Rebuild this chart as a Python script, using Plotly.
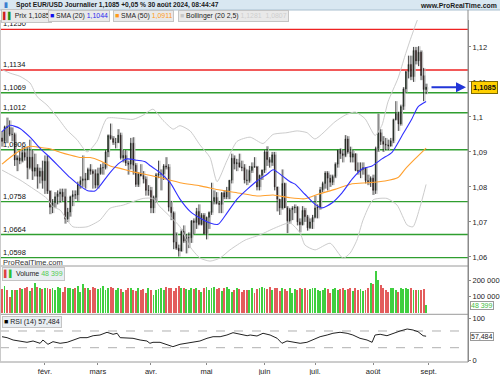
import pandas as pd
import plotly.graph_objects as go

# ---------------- data ----------------
dates = pd.bdate_range("2024-01-09", "2024-08-30")

open_ = [
    1.0940, 1.0930, 1.0972, 1.0970, 1.0950, 1.0950, 1.0877, 1.0883, 1.0875, 1.0898, 1.0885, 1.0855, 1.0885, 1.0845, 1.0855, 1.0830, 1.0845,
    1.0818, 1.0873, 1.0788, 1.0742, 1.0755, 1.0772, 1.0780, 1.0785, 1.0772, 1.0708, 1.0728, 1.0772, 1.0778, 1.0777, 1.0807, 1.0818, 1.0823, 1.0820, 1.0850, 1.0845, 1.0838,
    1.0805, 1.0838, 1.0855, 1.0855, 1.0900, 1.0947, 1.0938, 1.0927, 1.0927, 1.0948, 1.0883, 1.0890, 1.0868, 1.0865, 1.0925, 1.0862, 1.0807, 1.0837, 1.0832, 1.0822, 1.0790,
    1.0790, 1.0740, 1.0770, 1.0835, 1.0837, 1.0837, 1.0860, 1.0857, 1.0742, 1.0726, 1.0642, 1.0625, 1.0617, 1.0673, 1.0645, 1.0655, 1.0655, 1.0703, 1.0698, 1.0730, 1.0693, 1.0719,
    1.0666, 1.0713, 1.0727, 1.0760, 1.0770, 1.0753, 1.0750, 1.0783, 1.0771, 1.0790, 1.0819, 1.0882, 1.0866, 1.0869, 1.0857, 1.0855, 1.0820, 1.0818, 1.0847, 1.0858, 1.0857, 1.0800, 1.0833,
    1.0848, 1.0900, 1.0878, 1.0870, 1.0892, 1.0800, 1.0765, 1.0740, 1.0810, 1.0740, 1.0703, 1.0735, 1.0740, 1.0742, 1.0700, 1.0692, 1.0733, 1.0715, 1.0683, 1.0700,
    1.0713, 1.0740, 1.0742, 1.0792, 1.0810, 1.0840, 1.0825, 1.0813, 1.0830, 1.0865, 1.0905, 1.0895, 1.0890, 1.0937, 1.0900, 1.0885, 1.0895, 1.0847, 1.0845, 1.0850, 1.0855, 1.0818, 1.0815,
    1.0825, 1.0790, 1.0910, 1.0955, 1.0930, 1.0922, 1.0920, 1.0917, 1.0932, 1.0992, 1.1010, 1.0980, 1.1030, 1.1080, 1.1130, 1.1150, 1.1115, 1.1190, 1.1160, 1.1185, 1.1118, 1.1078,
]
high = [
    1.0960, 1.0975, 1.0998, 1.0990, 1.0970, 1.0955, 1.0890, 1.0905, 1.0915, 1.0915, 1.0915, 1.0935, 1.0905, 1.0895, 1.0865, 1.0855, 1.0875,
    1.0890, 1.0890, 1.0790, 1.0765, 1.0785, 1.0790, 1.0795, 1.0795, 1.0795, 1.0740, 1.0775, 1.0790, 1.0790, 1.0815, 1.0830, 1.0890, 1.0840, 1.0855, 1.0865, 1.0850, 1.0850,
    1.0855, 1.0865, 1.0870, 1.0905, 1.0950, 1.0981, 1.0945, 1.0940, 1.0965, 1.0955, 1.0905, 1.0905, 1.0875, 1.0940, 1.0942, 1.0868, 1.0842, 1.0865, 1.0845, 1.0830, 1.0805,
    1.0800, 1.0775, 1.0840, 1.0875, 1.0850, 1.0865, 1.0885, 1.0865, 1.0760, 1.0730, 1.0670, 1.0635, 1.0680, 1.0690, 1.0665, 1.0670, 1.0705, 1.0710, 1.0740, 1.0750, 1.0725, 1.0725,
    1.0715, 1.0730, 1.0812, 1.0790, 1.0785, 1.0760, 1.0785, 1.0790, 1.0800, 1.0820, 1.0895, 1.0890, 1.0880, 1.0895, 1.0875, 1.0865, 1.0850, 1.0860, 1.0870, 1.0885, 1.0860, 1.0835, 1.0850,
    1.0905, 1.0916, 1.0885, 1.0900, 1.0900, 1.0800, 1.0765, 1.0850, 1.0812, 1.0745, 1.0740, 1.0745, 1.0750, 1.0745, 1.0710, 1.0745, 1.0740, 1.0720, 1.0710, 1.0720,
    1.0775, 1.0750, 1.0800, 1.0815, 1.0845, 1.0845, 1.0835, 1.0835, 1.0870, 1.0905, 1.0910, 1.0905, 1.0948, 1.0945, 1.0915, 1.0905, 1.0895, 1.0870, 1.0870, 1.0870, 1.0855, 1.0835, 1.0830,
    1.0835, 1.0915, 1.1009, 1.0965, 1.0945, 1.0940, 1.0935, 1.0940, 1.0995, 1.1045, 1.1015, 1.1035, 1.1085, 1.1130, 1.1175, 1.1175, 1.1200, 1.1200, 1.1202, 1.1190, 1.1140, 1.1095,
]
low = [
    1.0915, 1.0925, 1.0925, 1.0945, 1.0930, 1.0860, 1.0845, 1.0865, 1.0870, 1.0875, 1.0822, 1.0850, 1.0820, 1.0830, 1.0795, 1.0810, 1.0795,
    1.0780, 1.0780, 1.0722, 1.0725, 1.0740, 1.0750, 1.0755, 1.0760, 1.0695, 1.0700, 1.0715, 1.0745, 1.0765, 1.0760, 1.0795, 1.0800, 1.0795, 1.0820, 1.0835, 1.0795, 1.0796,
    1.0795, 1.0835, 1.0835, 1.0850, 1.0885, 1.0935, 1.0920, 1.0910, 1.0925, 1.0878, 1.0870, 1.0860, 1.0835, 1.0850, 1.0835, 1.0800, 1.0800, 1.0830, 1.0810, 1.0775, 1.0775,
    1.0725, 1.0725, 1.0755, 1.0825, 1.0790, 1.0820, 1.0850, 1.0730, 1.0705, 1.0622, 1.0620, 1.0601, 1.0615, 1.0640, 1.0610, 1.0625, 1.0640, 1.0665, 1.0680, 1.0690, 1.0690, 1.0665,
    1.0650, 1.0680, 1.0720, 1.0750, 1.0750, 1.0725, 1.0725, 1.0765, 1.0765, 1.0765, 1.0810, 1.0850, 1.0845, 1.0855, 1.0845, 1.0810, 1.0805, 1.0812, 1.0840, 1.0855, 1.0790, 1.0790, 1.0820,
    1.0840, 1.0860, 1.0855, 1.0860, 1.0790, 1.0730, 1.0720, 1.0735, 1.0740, 1.0668, 1.0695, 1.0705, 1.0725, 1.0690, 1.0670, 1.0690, 1.0700, 1.0675, 1.0680, 1.0680,
    1.0710, 1.0710, 1.0735, 1.0785, 1.0795, 1.0790, 1.0800, 1.0805, 1.0825, 1.0855, 1.0880, 1.0870, 1.0885, 1.0895, 1.0870, 1.0870, 1.0845, 1.0835, 1.0825, 1.0835, 1.0810, 1.0805, 1.0800,
    1.0777, 1.0780, 1.0900, 1.0920, 1.0900, 1.0905, 1.0905, 1.0915, 1.0925, 1.0990, 1.0960, 1.0975, 1.1020, 1.1070, 1.1110, 1.1105, 1.1100, 1.1150, 1.1145, 1.1105, 1.1045, 1.1065,
]
close = [
    1.0930, 1.0972, 1.0970, 1.0950, 1.0950, 1.0877, 1.0883, 1.0875, 1.0898, 1.0885, 1.0855, 1.0885, 1.0845, 1.0855, 1.0830, 1.0845, 1.0818,
    1.0873, 1.0788, 1.0742, 1.0755, 1.0772, 1.0780, 1.0785, 1.0772, 1.0708, 1.0728, 1.0772, 1.0778, 1.0777, 1.0807, 1.0818, 1.0823, 1.0820, 1.0850, 1.0845, 1.0838, 1.0805,
    1.0838, 1.0855, 1.0855, 1.0900, 1.0947, 1.0938, 1.0927, 1.0927, 1.0948, 1.0883, 1.0890, 1.0868, 1.0865, 1.0925, 1.0862, 1.0807, 1.0837, 1.0832, 1.0822, 1.0790, 1.0790,
    1.0740, 1.0770, 1.0835, 1.0837, 1.0837, 1.0860, 1.0857, 1.0742, 1.0726, 1.0642, 1.0625, 1.0617, 1.0673, 1.0645, 1.0655, 1.0655, 1.0703, 1.0698, 1.0730, 1.0693, 1.0719, 1.0666,
    1.0713, 1.0727, 1.0760, 1.0770, 1.0753, 1.0750, 1.0783, 1.0771, 1.0790, 1.0819, 1.0882, 1.0866, 1.0869, 1.0857, 1.0855, 1.0820, 1.0818, 1.0847, 1.0858, 1.0857, 1.0800, 1.0833, 1.0848,
    1.0900, 1.0878, 1.0870, 1.0892, 1.0800, 1.0765, 1.0740, 1.0810, 1.0740, 1.0703, 1.0735, 1.0740, 1.0742, 1.0700, 1.0692, 1.0733, 1.0715, 1.0683, 1.0700, 1.0713,
    1.0740, 1.0742, 1.0792, 1.0810, 1.0840, 1.0825, 1.0813, 1.0830, 1.0865, 1.0905, 1.0895, 1.0890, 1.0937, 1.0900, 1.0885, 1.0895, 1.0847, 1.0845, 1.0850, 1.0855, 1.0818, 1.0815, 1.0825,
    1.0790, 1.0910, 1.0955, 1.0930, 1.0922, 1.0920, 1.0917, 1.0932, 1.0992, 1.1010, 1.0980, 1.1030, 1.1080, 1.1130, 1.1150, 1.1115, 1.1190, 1.1160, 1.1185, 1.1118, 1.1078, 1.1085,
]
volume = [
    145000, 165000, 140000, 98000, 140000, 140000, 140000, 150000, 145000, 150000, 160000, 135000, 150000, 180000, 160000, 150000, 145000, 155000, 150000, 145000,
    150000, 140000, 160000, 150000, 130000, 160000, 155000, 150000, 145000, 150000, 165000, 130000, 175000, 150000, 155000, 140000, 160000, 150000, 145000, 155000,
    165000, 140000, 150000, 160000, 150000, 140000, 155000, 145000, 130000, 140000, 150000, 155000, 140000, 135000, 150000, 140000, 145000, 125000, 150000, 140000,
    110000, 140000, 145000, 150000, 140000, 160000, 155000, 150000, 135000, 150000, 165000, 155000, 150000, 145000, 140000, 150000, 145000, 150000, 140000, 130000,
    155000, 160000, 140000, 150000, 160000, 145000, 150000, 135000, 150000, 160000, 145000, 130000, 140000, 150000, 145000, 130000, 140000, 140000, 140000, 150000,
    125000, 145000, 150000, 160000, 155000, 145000, 160000, 140000, 150000, 150000, 135000, 150000, 145000, 135000, 150000, 120000, 145000, 140000, 150000, 145000,
    150000, 140000, 145000, 150000, 155000, 140000, 135000, 140000, 150000, 145000, 120000, 145000, 150000, 140000, 145000, 150000, 140000, 145000, 155000, 135000,
    150000, 140000, 145000, 135000, 140000, 150000, 180000, 175000, 254000, 200000, 170000, 150000, 140000, 130000, 150000, 150000, 140000, 130000, 155000, 145000,
    150000, 145000, 150000, 140000, 140000, 140000, 140000, 145000, 48399,
]

# indicator lines (trading-day index, value)
sma20_idx = [0, 3.2, 7.1, 11.1, 15.1, 19.0, 23.0, 26.9, 30.9, 33.7, 36.8, 38.8, 42.8, 46.8, 49.5, 53.5, 56.7, 58.6, 62.6, 66.6,
             70.5, 74.5, 78.4, 82.4, 85.6, 89.1, 93.1, 97.1, 101.0, 105.0, 107.4, 111.3, 114.1, 116.1, 120.0, 124.0, 126.8, 130.7,
             134.7, 138.7, 142.6, 146.6, 150.5, 154.5, 158.5, 162.4, 164.8, 168.0]
sma20_val = [1.0958, 1.0976, 1.0967, 1.0942, 1.0910, 1.0884, 1.0855, 1.0827, 1.0803, 1.0790, 1.0788, 1.0803, 1.0841, 1.0870, 1.0880, 1.0876, 1.0872, 1.0861, 1.0841, 1.0812,
             1.0765, 1.0730, 1.0711, 1.0697, 1.0693, 1.0725, 1.0765, 1.0793, 1.0817, 1.0836, 1.0849, 1.0830, 1.0815, 1.0808, 1.0779, 1.0750, 1.0740, 1.0754,
             1.0783, 1.0822, 1.0851, 1.0860, 1.0880, 1.0899, 1.0947, 1.0995, 1.1029, 1.1044]
sma50_idx = [0, 3.2, 7.1, 11.1, 15.1, 19.0, 23.0, 26.9, 30.9, 34.9, 38.8, 42.8, 46.8, 51.9, 56.7, 62.6, 70.5, 78.4, 86.4, 94.3,
             101.0, 107.4, 114.1, 120.0, 125.2, 131.9, 138.7, 145.0, 151.7, 156.9, 159.7, 163.6, 168.0]
sma50_val = [1.0865, 1.0884, 1.0904, 1.0916, 1.0913, 1.0909, 1.0899, 1.0891, 1.0884, 1.0884, 1.0875, 1.0860, 1.0853, 1.0843, 1.0836, 1.0827, 1.0812, 1.0803, 1.0791, 1.0782,
             1.0774, 1.0777, 1.0769, 1.0766, 1.0779, 1.0793, 1.0809, 1.0812, 1.0817, 1.0827, 1.0851, 1.0880, 1.0911]
bb_up_idx = [0, 3.2, 7.1, 11.1, 13.9, 17.8, 21.8, 25.8, 29.7, 33.7, 37.6, 41.6, 46.8, 51.9, 55.9, 59.8, 63.8, 67.8, 70.5, 74.5,
             78.4, 82.4, 85.2, 89.1, 93.1, 98.3, 103.4, 107.4, 112.9, 116.9, 120.8, 124.0, 131.9, 135.9, 139.9, 143.8, 147.8, 150.5,
             152.9, 156.9, 159.7, 162.4, 165.6, 168.0]
bb_up_val = [1.1135, 1.1125, 1.1116, 1.1097, 1.1058, 1.1034, 1.1000, 1.0962, 1.0935, 1.0900, 1.0930, 1.0996, 1.0996, 1.0993, 1.1005, 1.1022, 1.0990, 1.0965, 1.0975, 1.0960,
             1.0920, 1.0884, 1.0815, 1.0875, 1.0930, 1.0942, 1.0924, 1.0950, 1.0955, 1.0960, 1.0955, 1.0937, 1.0986, 1.1005, 1.1014, 1.0995, 1.0947, 1.0976,
             1.1043, 1.1111, 1.1176, 1.1234, 1.1290, 1.1281]
bb_lo_idx = [0, 7.1, 11.1, 17.8, 20.2, 23.0, 25.8, 28.1, 33.7, 38.8, 42.8, 48.0, 51.9, 55.9, 59.8, 62.6, 66.6, 70.5, 74.5, 78.4,
             82.4, 86.4, 90.3, 96.3, 102.2, 108.2, 114.1, 118.1, 120.0, 124.0, 130.0, 135.1, 137.9, 140.6, 143.0, 147.0, 152.5,
             156.5, 160.5, 162.8, 165.6, 168.0]
bb_lo_val = [1.0848, 1.0820, 1.0801, 1.0767, 1.0743, 1.0734, 1.0705, 1.0686, 1.0686, 1.0705, 1.0739, 1.0748, 1.0758, 1.0767, 1.0767, 1.0743, 1.0715, 1.0686, 1.0629, 1.0597,
             1.0588, 1.0597, 1.0620, 1.0648, 1.0663, 1.0683, 1.0697, 1.0668, 1.0634, 1.0620, 1.0639, 1.0596, 1.0611, 1.0648, 1.0705, 1.0763, 1.0767,
             1.0748, 1.0691, 1.0686, 1.0743, 1.0807]
rsi_idx = [0, 2, 4.4, 7.1, 9.9, 12.3, 15.1, 16.2, 18.2, 20.2, 23.0, 25.8, 28.1, 30.9, 33.7, 36.1, 38.8, 41.6, 44.0, 45.6,
           46.8, 49.5, 51.9, 54.7, 57.4, 58.6, 59.8, 62.6, 65.4, 67.7, 70.5, 73.3, 75.7, 78.4, 81.2, 83.6, 86.4, 89.1, 91.5, 94.3,
           97.1, 98.3, 101.0, 103.4, 106.2, 109.0, 110.9, 112.9, 115.3, 118.1, 120.8, 123.2, 126.0, 128.8, 131.1, 133.9, 136.7,
           139.0, 141.8, 144.6, 146.6, 147.8, 149.8, 152.5, 154.9, 157.7, 160.5, 162.8, 164.8, 166.8, 168.0]
rsi_val = [56.3, 54.0, 48.4, 46.0, 42.9, 46.0, 40.5, 48.4, 38.1, 44.4, 40.5, 42.9, 48.4, 54.0, 54.0, 58.7, 60.4, 66.9, 62.1, 64.5,
           54.0, 54.0, 52.5, 48.4, 46.0, 40.5, 42.9, 42.9, 38.1, 32.4, 38.1, 40.5, 42.9, 46.0, 52.5, 56.3, 56.3, 60.4, 65.9, 62.1,
           58.7, 60.4, 58.0, 64.5, 60.4, 52.5, 40.5, 46.0, 42.9, 40.5, 42.9, 48.4, 56.3, 60.4, 64.5, 66.9, 64.5,
           60.4, 52.5, 48.4, 42.9, 60.4, 62.1, 58.7, 64.5, 70.0, 74.8, 72.4, 68.3, 58.7, 57.484]

levels_red = [1.1250, 1.1134]
levels_green = [1.1069, 1.1012, 1.0906, 1.0758, 1.0664, 1.0598]

price_ticks = [1.06, 1.07, 1.08, 1.09, 1.10, 1.11, 1.12]
price_ticktext = ["1,06", "1,07", "1,08", "1,09", "1,1", "1,11", "1,12"]
vol_ticks = [100000, 200000]
vol_ticktext = ["100 000", "200 000"]
rsi_ticks = [0, 100]
rsi_ticktext = ["0", "100"]
month_labels = ["févr.", "mars", "avr.", "mai", "juin", "juil.", "août", "sept."]
month_firsts = ["2024-02-01", "2024-03-01", "2024-04-01", "2024-05-01", "2024-06-03",
                "2024-07-01", "2024-08-01", "2024-09-02"]

# ---------------- derived ----------------
n = min(len(dates), len(open_), len(high), len(low), len(close), len(volume))
idx = list(range(n))
open_, high, low, close, volume = open_[:n], high[:n], low[:n], close[:n], volume[:n]
all_days = pd.bdate_range("2024-01-09", "2024-09-30")
tick_pos = [all_days.get_loc(pd.Timestamp(d)) for d in month_firsts]

W, H = 500, 375
ML, MR, MT, MB = 0, 32, 20, 13
PW, PH = W - ML - MR, H - MT - MB
FONT = "Arial, 'Liberation Sans', sans-serif"


def px_x(x):
    return (x - ML) / PW


def px_y(y):
    return (H - MB - y) / PH


GREEN_C = "#0e6a0e"
RED_C = "#8c0d0d"
SHADOW = "#bdbdbd"

fig = go.Figure()

# candle shadows
fig.add_trace(go.Candlestick(
    x=[i + 0.55 for i in idx], open=open_, high=high, low=low, close=close,
    increasing=dict(fillcolor=SHADOW, line=dict(color=SHADOW, width=1)),
    decreasing=dict(fillcolor=SHADOW, line=dict(color=SHADOW, width=1)),
    whiskerwidth=0, showlegend=False, hoverinfo="skip", xaxis="x", yaxis="y"))

# bollinger
fig.add_trace(go.Scatter(x=bb_up_idx, y=bb_up_val, mode="lines", line=dict(color="#cccccc", width=1, shape="spline", smoothing=0.6),
                         showlegend=False, hoverinfo="skip", yaxis="y"))
fig.add_trace(go.Scatter(x=bb_lo_idx, y=bb_lo_val, mode="lines", line=dict(color="#cccccc", width=1, shape="spline", smoothing=0.6),
                         showlegend=False, hoverinfo="skip", yaxis="y"))

# candles
fig.add_trace(go.Candlestick(
    x=idx, open=open_, high=high, low=low, close=close,
    increasing=dict(fillcolor=GREEN_C, line=dict(color="#1c1c1c", width=0.8)),
    decreasing=dict(fillcolor=RED_C, line=dict(color="#1c1c1c", width=0.8)),
    whiskerwidth=0, showlegend=False, hoverinfo="skip", xaxis="x", yaxis="y"))

# moving averages
fig.add_trace(go.Scatter(x=sma50_idx, y=sma50_val, mode="lines", line=dict(color="#ffa02e", width=1.1, shape="spline", smoothing=0.6),
                         showlegend=False, hoverinfo="skip", yaxis="y"))
fig.add_trace(go.Scatter(x=sma20_idx, y=sma20_val, mode="lines", line=dict(color="#3030ff", width=1.1, shape="spline", smoothing=0.6),
                         showlegend=False, hoverinfo="skip", yaxis="y"))

# volume
vol_colors = ["#3fcf3f" if c >= o else "#e35c5c" for o, c in zip(open_, close)]
fig.add_trace(go.Bar(x=idx, y=volume, marker=dict(color=vol_colors, line=dict(width=0)), width=0.75,
                     showlegend=False, hoverinfo="skip", yaxis="y2"))

# rsi
fig.add_trace(go.Scatter(x=rsi_idx, y=rsi_val, mode="lines", line=dict(color="#222222", width=1),
                         showlegend=False, hoverinfo="skip", yaxis="y3"))

shapes = []
annotations = []

# header band
shapes.append(dict(type="rect", xref="paper", yref="paper", x0=px_x(0), x1=px_x(W), y0=px_y(10), y1=px_y(0),
                   fillcolor="#d9e7f1", line=dict(width=0), layer="below"))
shapes.append(dict(type="line", xref="paper", yref="paper", x0=px_x(0), x1=px_x(W), y0=px_y(10), y1=px_y(10),
                   line=dict(color="#a9bfcf", width=1)))

# level lines and labels
for lv in levels_red + levels_green:
    col = "#ee2222" if lv in levels_red else "#2f9e2f"
    shapes.append(dict(type="line", xref="paper", yref="y", x0=0, x1=1, y0=lv, y1=lv,
                       line=dict(color=col, width=1.4), layer="below"))
    annotations.append(dict(xref="paper", yref="y", x=px_x(1), y=lv, xanchor="left", yanchor="bottom",
                            text=f"{lv:.4f}".replace(".", ","), showarrow=False, yshift=-1,
                            font=dict(size=7.5, color="#111111", family=FONT)))

# rsi dashed guides
for g in [70, 30]:
    shapes.append(dict(type="line", xref="paper", yref="y3", x0=0, x1=1, y0=g, y1=g,
                       line=dict(color="#b0b0b0", width=1, dash="dash"), layer="below"))

# panel separators and borders
for yy in [266, 314.3, H - MB]:
    shapes.append(dict(type="line", xref="paper", yref="paper", x0=0, x1=1, y0=px_y(yy), y1=px_y(yy),
                       line=dict(color="#9a9a9a", width=1)))
shapes.append(dict(type="line", xref="paper", yref="paper", x0=1, x1=1, y0=0, y1=px_y(10),
                   line=dict(color="#8a8a8a", width=1)))
shapes.append(dict(type="line", xref="paper", yref="paper", x0=0.001, x1=0.001, y0=0, y1=px_y(20),
                   line=dict(color="#c8c8c8", width=1)))

# header texts
annotations.append(dict(xref="paper", yref="paper", x=px_x(2), y=px_y(5), xanchor="left", yanchor="middle",
                        text="<b>▮</b>", showarrow=False, font=dict(size=7, color="#3a7fd0", family=FONT)))
annotations.append(dict(xref="paper", yref="paper", x=px_x(14), y=px_y(5), xanchor="left", yanchor="middle",
                        text="<b>Spot EUR/USD Journalier 1,1085 +0,05 % 30 août 2024, 08:44:47</b>",
                        showarrow=False, font=dict(size=6.7, color="#1a1a1a", family=FONT)))
annotations.append(dict(xref="paper", yref="paper", x=px_x(499), y=px_y(5), xanchor="right", yanchor="middle",
                        text="<b>www.ProRealTime.com</b>", showarrow=False, font=dict(size=6.9, color="#1a1a1a", family=FONT)))

# legend boxes
legend_items = [
    (1, '<span style="color:#d02020">▌</span><span style="color:#209020">▌</span> Prix 1,1085'),
    (48, '<span style="color:#1010ee">■</span> SMA (20) <span style="color:#2a2aee">1,1044</span>'),
    (113, '<span style="color:#ff9a1a">■</span> SMA (50) <span style="color:#ff9a1a">1,0911</span>'),
    (178, '<span style="color:#c8c8c8">■</span> Bollinger (20 2,5) <span style="color:#cfcfcf">1,1281  1,0807</span>'),
]
for xpos, txt in legend_items:
    annotations.append(dict(xref="paper", yref="paper", x=px_x(xpos), y=px_y(15.5), xanchor="left", yanchor="middle",
                            text=txt, showarrow=False, bgcolor="#e9e9e9", bordercolor="#c4c4c4", borderwidth=1, borderpad=1,
                            font=dict(size=6.9, color="#222222", family=FONT)))

# watermark in main panel
annotations.append(dict(xref="paper", yref="paper", x=px_x(1), y=px_y(262), xanchor="left", yanchor="middle",
                        text="ProRealTime.com", showarrow=False, font=dict(size=7.5, color="#333333", family=FONT)))

# volume / rsi legend boxes
annotations.append(dict(xref="paper", yref="paper", x=px_x(2), y=px_y(273.5), xanchor="left", yanchor="middle",
                        text='<span style="color:#e04040">▌</span><span style="color:#30c030">▌</span> Volume <span style="color:#55cc55">48 399</span>',
                        showarrow=False, bgcolor="#e9eef2", bordercolor="#c4c4c4", borderwidth=1, borderpad=1,
                        font=dict(size=7, color="#222222", family=FONT)))
annotations.append(dict(xref="paper", yref="paper", x=px_x(2), y=px_y(321.5), xanchor="left", yanchor="middle",
                        text='<span style="color:#000">■</span> RSI (14) 57,484',
                        showarrow=False, bgcolor="#e9eef2", bordercolor="#c4c4c4", borderwidth=1, borderpad=1,
                        font=dict(size=7, color="#222222", family=FONT)))

# last price arrow + box
last = close[-1]
annotations.append(dict(xref="paper", yref="y", x=px_x(466), y=last, ax=-36, ay=0, axref="pixel", ayref="pixel",
                        text="", showarrow=True, arrowhead=2, arrowsize=1, arrowwidth=2, arrowcolor="#2236d8"))
annotations.append(dict(xref="paper", yref="y", x=px_x(471), y=last, xanchor="left", yanchor="middle",
                        text="<b>" + f"{last:.4f}".replace(".", ",") + "</b>", showarrow=False,
                        bgcolor="#ffd000", bordercolor="#7d6a00", borderwidth=1, borderpad=1,
                        font=dict(size=7.5, color="#111111", family=FONT)))
annotations.append(dict(xref="paper", yref="y2", x=px_x(470), y=volume[-1], xanchor="left", yanchor="middle",
                        text="48 399", showarrow=False, bgcolor="#ffffff", bordercolor="#9a9a9a", borderwidth=1, borderpad=0,
                        font=dict(size=7, color="#44bb44", family=FONT)))
annotations.append(dict(xref="paper", yref="y3", x=px_x(470), y=rsi_val[-1], xanchor="left", yanchor="middle",
                        text="57,484", showarrow=False, bgcolor="#ffffff", bordercolor="#9a9a9a", borderwidth=1, borderpad=0,
                        font=dict(size=7, color="#222222", family=FONT)))

axis_common = dict(showgrid=False, zeroline=False, side="right", anchor="x", ticks="outside", ticklen=2,
                   tickcolor="#8a8a8a", showline=True, linecolor="#8a8a8a", linewidth=1,
                   tickfont=dict(size=7.5, color="#222222", family=FONT), fixedrange=True)

fig.update_layout(
    width=W, height=H,
    margin=dict(l=ML, r=MR, t=MT, b=MB, pad=0),
    paper_bgcolor="#ffffff", plot_bgcolor="#ffffff",
    showlegend=False,
    xaxis=dict(range=[-0.8, 184.6], showgrid=False, zeroline=False, anchor="y3",
               tickvals=tick_pos, ticktext=month_labels, ticks="outside", ticklen=2, tickcolor="#8a8a8a",
               tickfont=dict(size=7.5, color="#222222", family=FONT), showline=False,
               rangeslider=dict(visible=False), fixedrange=True),
    yaxis=dict(domain=[px_y(266), 1], range=[1.0574, 1.12769], tickvals=price_ticks, ticktext=price_ticktext, **axis_common),
    yaxis2=dict(domain=[px_y(314.3), px_y(266)], range=[-5000, 284000], tickvals=vol_ticks, ticktext=vol_ticktext, **axis_common),
    yaxis3=dict(domain=[0, px_y(314.3)], range=[-4.3, 110], tickvals=rsi_ticks, ticktext=rsi_ticktext, **axis_common),
    shapes=shapes,
    annotations=annotations,
    bargap=0,
)

fig.write_html("out.html", config={"displayModeBar": False, "staticPlot": True},
               post_script="document.body.style.margin='0';document.body.style.padding='0';")
